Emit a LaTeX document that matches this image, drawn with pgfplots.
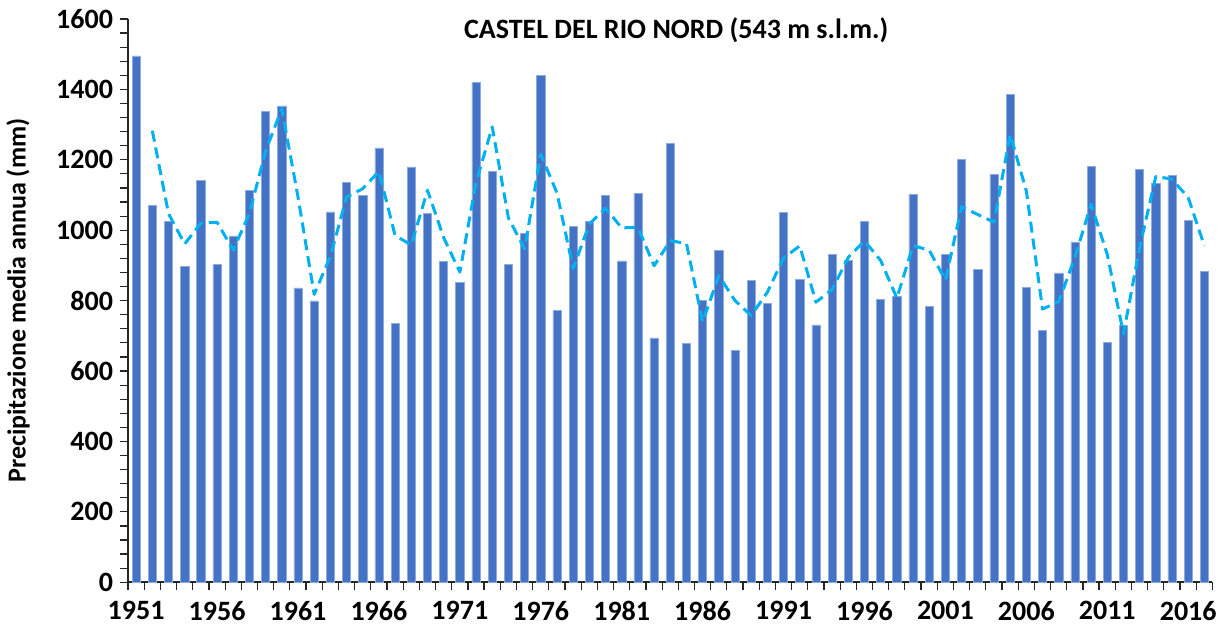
\documentclass[border=0pt]{standalone}
\usepackage{pgfplots}
\pgfplotsset{compat=1.18}
\usepackage{fontspec}
\setmainfont{Carlito}

\definecolor{barblue}{HTML}{4472C4}
\definecolor{avgcyan}{HTML}{00B0F0}

\pgfplotstableread{
year mm
1951 1495
1952 1070
1953 1024
1954 898
1955 1142
1956 903
1957 984
1958 1112
1959 1338
1960 1353
1961 836
1962 799
1963 1052
1964 1136
1965 1100
1966 1234
1967 736
1968 1180
1969 1047
1970 911
1971 851
1972 1420
1973 1167
1974 903
1975 991
1976 1440
1977 772
1978 1010
1979 1025
1980 1100
1981 913
1982 1104
1983 694
1984 1246
1985 679
1986 800
1987 942
1988 658
1989 857
1990 791
1991 1051
1992 860
1993 731
1994 932
1995 914
1996 1025
1997 803
1998 811
1999 1102
2000 784
2001 932
2002 1201
2003 888
2004 1158
2005 1386
2006 837
2007 715
2008 879
2009 967
2010 1181
2011 681
2012 730
2013 1172
2014 1134
2015 1156
2016 1029
2017 882
}\rain

% media mobile a 2 anni
\pgfplotstableread{
year mm
1952 1282.5
1953 1047
1954 961
1955 1020
1956 1022.5
1957 943.5
1958 1048
1959 1225
1960 1345.5
1961 1094.5
1962 817.5
1963 925.5
1964 1094
1965 1118
1966 1167
1967 985
1968 958
1969 1113.5
1970 979
1971 881
1972 1135.5
1973 1293.5
1974 1035
1975 947
1976 1215.5
1977 1106
1978 891
1979 1017.5
1980 1062.5
1981 1006.5
1982 1008.5
1983 899
1984 970
1985 962.5
1986 739.5
1987 871
1988 800
1989 757.5
1990 824
1991 921
1992 955.5
1993 795.5
1994 831.5
1995 923
1996 969.5
1997 914
1998 807
1999 956.5
2000 943
2001 858
2002 1066.5
2003 1044.5
2004 1023
2005 1272
2006 1111.5
2007 776
2008 797
2009 923
2010 1074
2011 931
2012 705.5
2013 951
2014 1153
2015 1145
2016 1092.5
2017 955.5
}\movavg

\begin{document}
\begin{tikzpicture}
\begin{axis}[
  scale only axis,
  width=542pt, height=281.5pt,
  xmin=1950.5, xmax=2017.5, ymin=0, ymax=1600,
  axis lines*=left,
  axis line style={black!85, line width=0.8pt},
  xtick={1951,1956,...,2016},
  xticklabels={1951,1956,1961,1966,1971,1976,1981,1986,1991,1996,2001,2006,2011,2016},
  minor xtick={1950.5,1951.5,...,2017.5},
  ytick={0,200,...,1600},
  yticklabels={0,200,400,600,800,1000,1200,1400,1600},
  minor ytick={40,80,...,1560},
  tick align=outside,
  major x tick style={draw=none},
  minor x tick style={black!85, line width=0.6pt},
  major y tick style={black!85, line width=0.6pt},
  minor y tick style={black!85, line width=0.6pt},
  major tick length=4pt, minor tick length=4pt,
  tick label style={font=\fontsize{14}{16}\selectfont\bfseries},
  xticklabel style={yshift=-2pt},
  ylabel={Precipitazione media annua (mm)},
  ylabel style={at={(axis description cs:-0.1015,0.5)}, anchor=center, font=\fontsize{13}{15}\selectfont\bfseries},
  clip=false,
]
\addplot[ybar, bar width=4.1pt, fill=barblue, draw=barblue!60!white, line width=0.3pt] table[x=year, y=mm] {\rain};
\addplot[avgcyan, line width=1.5pt, dash pattern=on 5.5pt off 3pt, line join=round] table[x=year, y=mm] {\movavg};
\node[anchor=center, font=\fontsize{14}{16}\selectfont\bfseries] at (rel axis cs:0.5055,0.980) {CASTEL DEL RIO NORD (543 m s.l.m.)};
\coordinate (ll) at (rel axis cs:0,0);
\coordinate (ur) at (rel axis cs:1,1);
\end{axis}
\pgfresetboundingbox
\path ([shift={(-64pt,-26.5pt)}]ll) rectangle ([shift={(8.25pt,9.5pt)}]ur);
\end{tikzpicture}
\end{document}
